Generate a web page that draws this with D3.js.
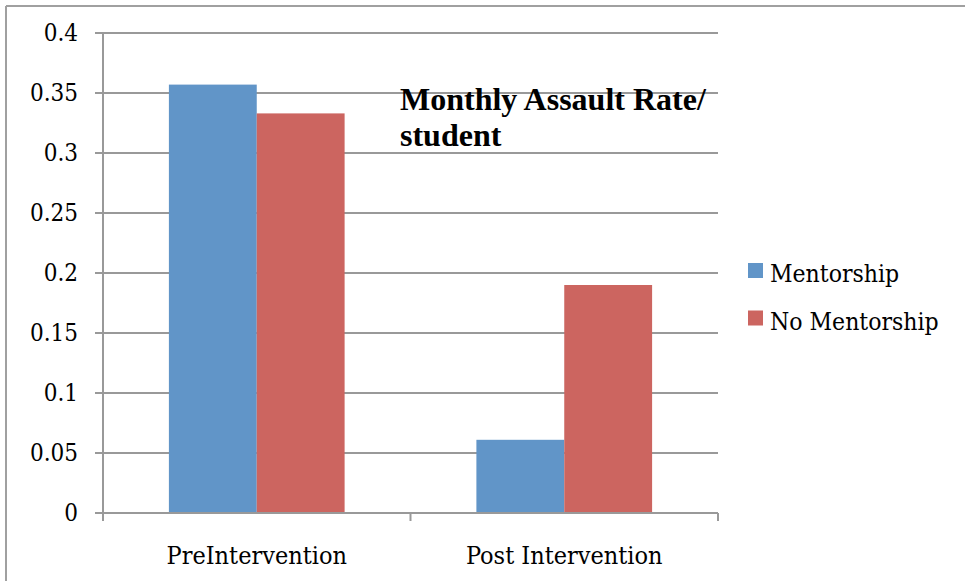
<!DOCTYPE html>
<html>
<head>
<meta charset="utf-8">
<script src="https://cdn.jsdelivr.net/npm/d3@7"></script>
<style>
  html, body { margin: 0; padding: 0; background: #fff; }
  svg { display: block; }
  text { fill: #000; }
  .lbl { font-family: "DejaVu Serif Condensed", "DejaVu Serif", serif; }
  .ttl { font-family: "Liberation Serif", serif; font-weight: bold; }
</style>
</head>
<body>
<script>
// Monthly assault rate per student, before and after the intervention
const categories = ["PreIntervention", "Post Intervention"];
const seriesNames = ["Mentorship", "No Mentorship"];
const mentorship = [0.357, 0.061];
const noMentorship = [0.333, 0.19];
const yTicks = [0, 0.05, 0.1, 0.15, 0.2, 0.25, 0.3, 0.35, 0.4];
const titleLines = ["Monthly Assault Rate/", "student"];
const colors = ["#6195c8", "#cc6560"];

const W = 965, H = 581;
const plot = { left: 103, right: 718, top: 33, bottom: 513 };

const svg = d3.select("body").append("svg").attr("width", W).attr("height", H);

// outer frame (top and left edges visible)
svg.append("line").attr("x1", 6).attr("x2", W).attr("y1", 6).attr("y2", 6)
  .attr("stroke", "#a0a0a0").attr("stroke-width", 2);
svg.append("line").attr("x1", 6).attr("x2", 6).attr("y1", 6).attr("y2", H)
  .attr("stroke", "#a0a0a0").attr("stroke-width", 2);

const x0 = d3.scaleBand().domain(categories).range([plot.left, plot.right]).paddingInner(0).paddingOuter(0);
const x1 = d3.scaleBand().domain(seriesNames).range([0, x0.bandwidth()]).paddingInner(0).paddingOuter(0.75);
const y = d3.scaleLinear().domain([0, 0.4]).range([plot.bottom, plot.top]);

// gridlines
svg.append("g").selectAll("line").data(yTicks).join("line")
  .attr("x1", plot.left - 8).attr("x2", plot.right)
  .attr("y1", d => y(d)).attr("y2", d => y(d))
  .attr("stroke", "#999").attr("stroke-width", 2);

// y-axis tick labels
svg.append("g").selectAll("text").data(yTicks).join("text")
  .attr("class", "lbl")
  .attr("x", 78).attr("y", d => y(d)).attr("dy", "0.35em")
  .attr("text-anchor", "end").attr("font-size", 24)
  .text(d => d === 0 ? "0" : String(d));

// bars
const rows = categories.map((c, i) => ({ cat: c, vals: [mentorship[i], noMentorship[i]] }));
const groups = svg.append("g").selectAll("g").data(rows).join("g")
  .attr("transform", d => `translate(${x0(d.cat)},0)`);
groups.selectAll("rect").data(d => d.vals.map((v, j) => ({ name: seriesNames[j], v, j })))
  .join("rect")
  .attr("x", d => x1(d.name))
  .attr("width", x1.bandwidth())
  .attr("y", d => y(d.v))
  .attr("height", d => y(0) - y(d.v))
  .attr("fill", d => colors[d.j]);

// y axis line and x axis with ticks
svg.append("line").attr("x1", plot.left).attr("x2", plot.left)
  .attr("y1", plot.top).attr("y2", plot.bottom + 8)
  .attr("stroke", "#999").attr("stroke-width", 2);
svg.append("line").attr("x1", plot.left - 8).attr("x2", plot.right)
  .attr("y1", plot.bottom).attr("y2", plot.bottom)
  .attr("stroke", "#999").attr("stroke-width", 2);
const boundaries = categories.map(c => x0(c) + x0.bandwidth());
svg.append("g").selectAll("line").data(boundaries).join("line")
  .attr("x1", d => d).attr("x2", d => d)
  .attr("y1", plot.bottom).attr("y2", plot.bottom + 8)
  .attr("stroke", "#999").attr("stroke-width", 2);

// category labels
svg.append("g").selectAll("text").data(categories).join("text")
  .attr("class", "lbl")
  .attr("x", d => x0(d) + x0.bandwidth() / 2).attr("y", 564)
  .attr("text-anchor", "middle").attr("font-size", 25)
  .text(d => d);

// title
svg.append("text").attr("class", "ttl").attr("x", 400).attr("y", 110)
  .attr("font-size", 32)
  .selectAll("tspan").data(titleLines).join("tspan")
  .attr("x", 400).attr("dy", (d, i) => i === 0 ? 0 : 36)
  .text(d => d);

// legend
const legend = svg.append("g").selectAll("g").data(seriesNames).join("g")
  .attr("transform", (d, i) => `translate(748,${263 + i * 47.5})`);
legend.append("rect").attr("width", 15).attr("height", 15).attr("fill", (d, i) => colors[i]);
legend.append("text").attr("class", "lbl").attr("x", 22).attr("y", 19).attr("font-size", 24.5).text(d => d);
</script>
</body>
</html>
